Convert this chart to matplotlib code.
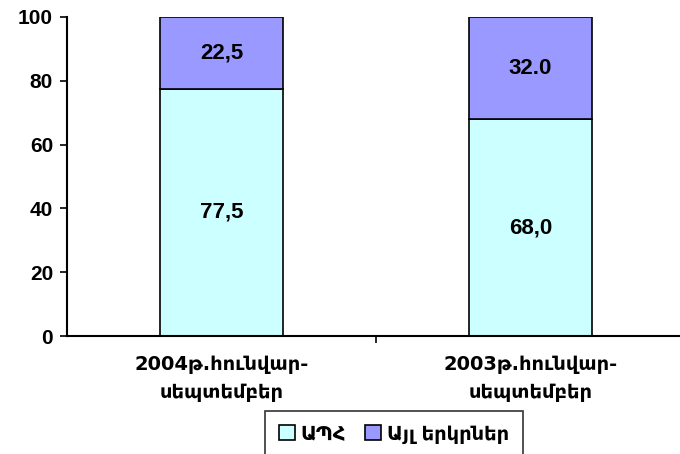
import matplotlib.pyplot as plt
import numpy as np

categories = ["2004թ.հունվար-\nսեպտեմբեր", "2003թ.հունվար-\nսեպտեմբեր"]
cis_values = [77.5, 68.0]
other_values = [22.5, 32.0]
cis_labels = ["77,5", "68,0"]
other_labels = ["22,5", "32.0"]
series_names = ["ԱՊՀ", "Այլ երկրներ"]
yticks = [0, 20, 40, 60, 80, 100]

fam = ["Liberation Sans", "DejaVu Sans"]
plt.rcParams['font.family'] = fam
plt.rcParams['font.weight'] = 'bold'

fig = plt.figure(figsize=(6.8, 4.54), dpi=100)
ax = fig.add_axes([67/680, 1-336/454, 618/680, 319/454])

x = np.arange(len(categories))
b1 = ax.bar(x, cis_values, width=0.4, color="#CCFFFF", edgecolor="black", linewidth=1.2, label=series_names[0])
b2 = ax.bar(x, other_values, width=0.4, bottom=cis_values, color="#9999FF", edgecolor="black", linewidth=1.2, label=series_names[1])

for i in range(len(x)):
    ax.text(x[i], cis_values[i]/2, cis_labels[i], ha="center", va="center", fontsize=16, fontweight="bold")
    ax.text(x[i], cis_values[i] + other_values[i]/2, other_labels[i], ha="center", va="center", fontsize=16, fontweight="bold")

ax.set_xlim(-0.5, 1.5)
ax.set_ylim(0, 100)
ax.set_yticks(yticks)
ax.set_xticks([0.5])
ax.set_xticklabels([""])
ax.tick_params(axis="x", length=5, width=1.2, direction="out")
ax.tick_params(axis="y", length=5, width=1.2, labelsize=15, pad=5)
for lab in ax.get_yticklabels():
    lab.set_fontweight("bold")

for i in range(len(x)):
    ax.text(x[i], -6, categories[i], ha="center", va="top", fontsize=14, fontweight="bold",
            linespacing=1.6, family=["DejaVu Sans"])

ax.spines["top"].set_visible(False)
ax.spines["right"].set_visible(False)
ax.spines["left"].set_linewidth(1.5)
ax.spines["bottom"].set_linewidth(1.5)

leg = fig.legend(loc="upper center", bbox_to_anchor=(394/680, 1-411/454), ncol=2,
                 frameon=True, fancybox=False, handlelength=0.8, handleheight=0.8,
                 handletextpad=0.3, columnspacing=1.0, borderpad=0.7, borderaxespad=0,
                 prop={"family": ["DejaVu Sans"], "size": 14, "weight": "bold"})
leg.get_frame().set_edgecolor("black")
leg.get_frame().set_linewidth(1.2)

fig.savefig("out.png", dpi=100)
